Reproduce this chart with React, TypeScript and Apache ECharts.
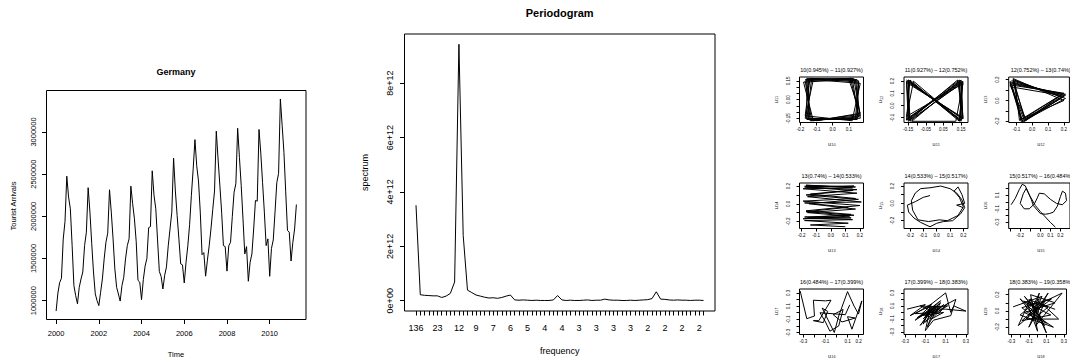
import React, { useEffect, useRef } from "react";
import * as echarts from "echarts";

const FONT = "'Liberation Sans', Arial, Helvetica, sans-serif";

// ---------------- Panel 1: Germany, monthly tourist arrivals Jan 2000 - Apr 2011 ----------------
const tsStartYear = 2000;
const germanyArrivals = [
  877000, 1090000, 1215000, 1265000, 1730000, 1940000, 2476000, 2230000, 2089000, 1653000, 1178000, 1059000,
  962000, 1158000, 1257000, 1340000, 1653000, 1812000, 2340000, 2050000, 1680000, 1340000, 1080000, 1000000,
  941000, 1099000, 1257000, 1495000, 1693000, 1800000, 2315000, 2050000, 1733000, 1376000, 1158000, 1079000,
  995000, 1178000, 1277000, 1495000, 1653000, 1733000, 2358000, 2150000, 1970000, 1700000, 1240000, 1220000,
  1012000, 1250000, 1410000, 1500000, 1866000, 1878000, 2540000, 2250000, 2090000, 1720000, 1346000, 1287000,
  1138000, 1300000, 1400000, 1650000, 1850000, 2050000, 2690000, 2300000, 2010000, 1730000, 1436000, 1424000,
  1210000, 1455000, 1650000, 1900000, 2250000, 2560000, 2910000, 2600000, 2420000, 2050000, 1545000, 1570000,
  1290000, 1480000, 1650000, 1850000, 2080000, 2300000, 3010000, 2680000, 2370000, 2050000, 1653000, 1641000,
  1350000, 1650000, 1693000, 2000000, 2287000, 2386000, 3045000, 2700000, 2366000, 1970000, 1554000, 1641000,
  1230000, 1455000, 1554000, 1850000, 2188000, 2180000, 3030000, 2750000, 2400000, 2050000, 1653000, 1733000,
  1289000, 1620000, 1720000, 2050000, 2400000, 2510000, 3392000, 3080000, 2760000, 2290000, 1832000, 1812000,
  1470000, 1690000, 1850000, 2140000,
];
const tsYearTicks = [2000, 2002, 2004, 2006, 2008, 2010];
const tsYearLabels = ["2000", "2002", "2004", "2006", "2008", "2010"];
const tsValueTicks = [1000000, 1500000, 2000000, 2500000, 3000000];
const tsValueLabels = ["1000000", "1500000", "2000000", "2500000", "3000000"];

// ---------------- Panel 2: periodogram (k = 1..68) ----------------
const periodogram = [
  3.51e12, 0.22e12, 0.2e12, 0.19e12, 0.18e12, 0.18e12, 0.12e12, 0.17e12, 0.27e12, 0.69e12,
  9.43e12, 2.4e12, 0.39e12, 0.3e12, 0.21e12, 0.17e12, 0.13e12, 0.1e12, 0.11e12, 0.09e12,
  0.12e12, 0.17e12, 0.21e12, 0.03e12, 0.02e12, 0.03e12, 0.02e12, 0.01e12, 0.02e12, 0.01e12,
  0.01e12, 0.01e12, 0.03e12, 0.19e12, 0.03e12, 0.01e12, 0.02e12, 0.01e12, 0.01e12, 0.02e12,
  0.03e12, 0.01e12, 0.02e12, 0.02e12, 0.06e12, 0.03e12, 0.02e12, 0.02e12, 0.01e12, 0.01e12,
  0.02e12, 0.01e12, 0.02e12, 0.03e12, 0.04e12, 0.08e12, 0.33e12, 0.06e12, 0.05e12, 0.03e12,
  0.02e12, 0.03e12, 0.02e12, 0.02e12, 0.01e12, 0.02e12, 0.02e12, 0.01e12,
];
const periodLabelK = [1, 6, 11, 15, 19, 23, 27, 31, 35, 39, 43, 47, 51, 55, 59, 63, 67];
const periodLabels = ["136", "23", "12", "9", "7", "6", "5", "4", "4", "3", "3", "3", "3", "2", "2", "2", "2"];
const spectrumTicks = [0, 2e12, 4e12, 6e12, 8e12];
const spectrumLabels = ["0e+00", "2e+12", "4e+12", "6e+12", "8e+12"];

// ---------------- Panel 3: paired eigenvectors ----------------
const u10u11 = [
  [-0.17, 0.16], [0.12, 0.17], [0.16, -0.14], [-0.14, -0.17],
  [-0.16, 0.17], [0.14, 0.16], [0.17, -0.15], [-0.15, -0.16],
  [-0.15, 0.16], [0.15, 0.16], [0.15, -0.16], [-0.16, -0.16],
  [-0.13, 0.17], [0.16, 0.15], [0.14, -0.16], [-0.17, -0.15],
  [-0.12, 0.16], [0.17, 0.13], [0.12, -0.17], [-0.17, -0.13],
  [-0.14, 0.17], [0.16, 0.14], [0.15, -0.16], [-0.16, -0.15],
  [-0.16, 0.16], [0.13, 0.17], [0.17, -0.13], [-0.13, -0.17],
  [-0.17, 0.15], [0.11, 0.17], [0.16, -0.12], [-0.12, -0.17],
  [-0.18, 0.14], [0.1, 0.16], [0.17, -0.11], [-0.1, -0.17],
];
const u11u12 = [
  [-0.16, 0.21], [0.15, -0.12], [0.14, 0.21], [-0.15, -0.11],
  [-0.15, 0.2], [0.16, -0.11], [0.15, 0.2], [-0.16, -0.12],
  [-0.14, 0.21], [0.14, -0.13], [0.16, 0.19], [-0.14, -0.12],
  [-0.16, 0.19], [0.16, -0.1], [0.13, 0.21], [-0.15, -0.13],
  [-0.15, 0.21], [0.15, -0.12], [0.15, 0.21], [-0.13, -0.13],
  [0.12, -0.13], [0.16, 0.18], [-0.16, -0.09], [-0.12, 0.2],
  [0.15, -0.13], [0.14, 0.2], [-0.15, -0.12], [-0.16, 0.2],
  [0.16, -0.11], [0.15, 0.19], [-0.14, -0.13], [-0.15, 0.21],
  [0.14, -0.12], [0.16, 0.2], [-0.16, -0.11],
];
const u12u13 = [
  [-0.13, 0.19], [0.2, 0.04], [-0.05, -0.19], [-0.14, 0.17], [0.21, 0.06], [-0.07, -0.2],
  [-0.12, 0.2], [0.19, 0.03], [-0.04, -0.18], [-0.14, 0.15], [0.2, 0.07], [-0.08, -0.19],
  [-0.11, 0.19], [0.21, 0.02], [-0.06, -0.2], [-0.13, 0.13], [0.18, 0.05], [-0.05, -0.17],
  [-0.12, 0.21], [0.2, 0.0], [-0.07, -0.18], [-0.14, 0.18], [0.21, 0.05], [-0.06, -0.21],
  [-0.13, 0.16], [0.19, 0.06], [-0.04, -0.19], [-0.12, 0.18],
];
const u13u14 = [
  [-0.18, 0.2], [0.17, 0.19], [-0.17, 0.21], [0.15, 0.18], [-0.19, 0.17], [0.18, 0.12],
  [-0.16, 0.08], [0.21, 0.02], [-0.18, 0.01], [0.12, -0.04], [-0.17, -0.09], [0.16, -0.13],
  [-0.18, -0.15], [0.14, -0.16], [-0.19, -0.17], [0.13, -0.14], [-0.16, -0.1], [0.17, -0.06],
  [-0.15, 0.0], [0.19, 0.05], [-0.17, 0.1], [0.15, 0.15], [-0.18, 0.19], [0.16, 0.2],
  [-0.17, 0.19], [0.18, 0.16], [-0.14, 0.11], [0.17, 0.06], [-0.19, 0.03], [0.2, -0.02],
  [-0.17, -0.08], [0.14, -0.12], [-0.16, -0.16], [0.15, -0.18], [-0.18, -0.19], [0.12, -0.22],
  [-0.14, -0.24], [0.1, -0.26],
];
const u14u15 = [
  [-0.05, 0.09], [-0.1, 0.07], [-0.16, 0.02], [-0.22, -0.02], [-0.21, -0.1], [-0.17, -0.17],
  [-0.12, -0.22], [-0.05, -0.27], [0.0, -0.23], [0.05, -0.21], [0.12, -0.2], [0.18, -0.12],
  [0.21, -0.05], [0.19, 0.04], [0.15, 0.12], [0.1, 0.17], [0.03, 0.2], [-0.05, 0.18],
  [-0.12, 0.17], [-0.16, 0.12], [-0.19, 0.03], [-0.18, -0.08], [-0.14, -0.19], [-0.06, -0.21],
  [0.02, -0.19], [0.08, -0.2], [0.16, -0.14], [0.2, -0.04], [0.17, 0.07], [0.13, 0.14],
  [0.16, 0.19], [0.19, 0.1], [0.21, 0.0], [0.15, -0.02], [0.2, -0.05],
];
const u15u16 = [
  [-0.29, -0.04], [-0.25, 0.05], [-0.21, 0.18], [-0.18, 0.26], [-0.15, 0.24], [-0.12, 0.14],
  [-0.09, 0.04], [-0.07, -0.05], [-0.03, -0.12], [0.0, -0.17], [0.05, -0.18], [0.09, -0.17],
  [0.13, -0.15], [0.17, -0.06], [0.2, 0.08], [0.22, 0.16], [0.25, 0.13], [0.26, 0.02],
  [0.22, -0.04], [0.16, -0.02], [0.1, 0.04], [0.04, 0.12], [-0.01, 0.13], [-0.03, 0.06],
  [-0.06, -0.03], [-0.11, -0.1], [-0.16, -0.1], [-0.2, -0.02], [-0.17, 0.12], [-0.14, 0.2],
  [-0.1, 0.08], [-0.05, -0.05], [0.0, -0.14], [0.05, -0.22], [0.1, -0.3], [0.15, -0.37],
];
const u16u17 = [
  [-0.33, 0.33], [-0.27, -0.09], [-0.2, -0.05], [-0.21, 0.19], [-0.1, 0.18], [-0.05, 0.19],
  [-0.16, -0.12], [-0.21, -0.12], [-0.12, -0.15], [-0.08, 0.02], [-0.13, 0.07], [-0.02, -0.3],
  [0.02, -0.05], [0.1, 0.32], [0.16, 0.1], [0.2, -0.02], [0.23, 0.18], [0.14, -0.25],
  [0.1, -0.06], [0.17, -0.08], [0.05, -0.14], [-0.03, -0.03], [0.06, 0.05], [0.02, -0.2],
  [-0.06, -0.28], [-0.1, -0.14], [-0.15, 0.0], [0.08, -0.03], [0.12, 0.12],
];
const u17u18 = [
  [-0.28, 0.05], [-0.1, 0.12], [-0.25, -0.05], [-0.05, 0.1], [-0.2, -0.12], [-0.02, 0.06],
  [-0.15, -0.2], [0.0, 0.12], [-0.12, -0.1], [0.05, 0.15], [-0.08, -0.22], [-0.02, 0.02],
  [-0.18, -0.08], [0.02, 0.1], [-0.1, -0.15], [0.08, 0.12], [-0.05, -0.05], [0.12, 0.1],
  [-0.08, 0.08], [0.1, 0.3], [0.15, 0.0], [0.18, 0.1], [0.3, 0.02], [0.1, 0.05],
  [-0.06, 0.05], [-0.12, -0.18], [-0.04, 0.13], [-0.2, -0.02], [0.0, 0.0], [-0.15, 0.1],
  [0.04, 0.08], [-0.1, -0.05], [0.2, 0.2], [0.15, -0.05], [-0.02, -0.12], [-0.1, -0.28],
  [-0.06, 0.0], [0.05, 0.18], [-0.14, -0.05], [0.08, 0.0], [-0.04, -0.1], [0.12, 0.14],
  [0.03, -0.02], [-0.08, 0.1],
];
const u18u19 = [
  [-0.28, 0.05], [0.05, 0.18], [-0.1, -0.2], [0.12, 0.22], [-0.05, -0.05], [-0.2, 0.15],
  [0.1, -0.15], [-0.15, -0.02], [0.2, 0.1], [-0.08, 0.2], [0.0, -0.25], [-0.12, 0.1],
  [0.15, -0.05], [-0.18, -0.12], [0.08, 0.12], [-0.02, -0.18], [0.28, 0.22], [-0.05, 0.05],
  [-0.15, 0.18], [0.05, -0.1], [-0.1, 0.0], [0.18, -0.2], [-0.2, -0.05], [0.02, 0.15],
  [-0.06, -0.12], [0.12, 0.05], [-0.16, 0.12], [0.0, 0.02], [0.1, -0.27], [-0.08, 0.15],
  [-0.22, -0.18], [0.06, 0.08], [0.24, -0.1], [-0.12, -0.1], [0.02, 0.22], [-0.04, -0.02],
  [0.16, 0.15], [-0.18, 0.04], [0.08, -0.18], [-0.1, 0.14], [0.2, 0.02],
];

const pairTitles = [
  "10(0.945%) \u2013 11(0.927%)", "11(0.927%) \u2013 12(0.752%)", "12(0.752%) \u2013 13(0.74%)",
  "13(0.74%) \u2013 14(0.533%)", "14(0.533%) \u2013 15(0.517%)", "15(0.517%) \u2013 16(0.484%)",
  "16(0.484%) \u2013 17(0.399%)", "17(0.399%) \u2013 18(0.383%)", "18(0.383%) \u2013 19(0.358%)",
];
const pairXIndex = ["10", "11", "12", "13", "14", "15", "16", "17", "18"];
const pairYIndex = ["11", "12", "13", "14", "15", "16", "17", "18", "19"];
const pairPoints = [u10u11, u11u12, u12u13, u13u14, u14u15, u15u16, u16u17, u17u18, u18u19];

const pairAxes = [
  { x: [-0.205, 0.19], xt: [-0.2, -0.1, 0, 0.1], xl: [-0.2, -0.1, 0, 0.1], xs: ["-0.2", "-0.1", "0.0", "0.1"],
    y: [-0.184, 0.181], yt: [-0.15, -0.1, -0.05, 0, 0.05, 0.1, 0.15], yl: [-0.15, 0, 0.15], ys: ["-0.15", "0.00", "0.15"] },
  { x: [-0.174, 0.189], xt: [-0.15, -0.1, -0.05, 0, 0.05, 0.1, 0.15], xl: [-0.15, -0.05, 0.05, 0.15], xs: ["-0.15", "-0.05", "0.05", "0.15"],
    y: [-0.14, 0.235], yt: [-0.1, 0, 0.1, 0.2], yl: [-0.1, 0, 0.1, 0.2], ys: ["-0.1", "0.0", "0.1", "0.2"] },
  { x: [-0.148, 0.235], xt: [-0.1, 0, 0.1, 0.2], xl: [-0.1, 0, 0.1, 0.2], xs: ["-0.1", "0.0", "0.1", "0.2"],
    y: [-0.21, 0.225], yt: [-0.2, -0.1, 0, 0.1, 0.2], yl: [-0.2, 0, 0.2], ys: ["-0.2", "0.0", "0.2"] },
  { x: [-0.215, 0.225], xt: [-0.2, -0.1, 0, 0.1, 0.2], xl: [-0.2, -0.1, 0, 0.1, 0.2], xs: ["-0.2", "-0.1", "0.0", "0.1", "0.2"],
    y: [-0.28, 0.235], yt: [-0.2, -0.1, 0, 0.1, 0.2], yl: [-0.2, 0, 0.2], ys: ["-0.2", "0.0", "0.2"] },
  { x: [-0.245, 0.235], xt: [-0.2, -0.1, 0, 0.1, 0.2], xl: [-0.2, -0.1, 0, 0.1, 0.2], xs: ["-0.2", "-0.1", "0.0", "0.1", "0.2"],
    y: [-0.29, 0.235], yt: [-0.2, -0.1, 0, 0.1, 0.2], yl: [-0.2, 0, 0.2], ys: ["-0.2", "0.0", "0.2"] },
  { x: [-0.314, 0.295], xt: [-0.3, -0.2, -0.1, 0, 0.1, 0.2], xl: [-0.2, 0, 0.1, 0.2], xs: ["-0.2", "0.0", "0.1", "0.2"],
    y: [-0.39, 0.28], yt: [-0.3, -0.2, -0.1, 0, 0.1, 0.2], yl: [-0.3, -0.1, 0.1], ys: ["-0.3", "-0.1", "0.1"] },
  { x: [-0.336, 0.245], xt: [-0.3, -0.2, -0.1, 0, 0.1, 0.2], xl: [-0.3, -0.1, 0.1, 0.2], xs: ["-0.3", "-0.1", "0.1", "0.2"],
    y: [-0.33, 0.36], yt: [-0.3, -0.2, -0.1, 0, 0.1, 0.2, 0.3], yl: [-0.3, -0.1, 0.1, 0.3], ys: ["-0.3", "-0.1", "0.1", "0.3"] },
  { x: [-0.31, 0.32], xt: [-0.3, -0.2, -0.1, 0, 0.1, 0.2, 0.3], xl: [-0.3, -0.1, 0.1, 0.3], xs: ["-0.3", "-0.1", "0.1", "0.3"],
    y: [-0.34, 0.36], yt: [-0.3, -0.2, -0.1, 0, 0.1, 0.2, 0.3], yl: [-0.3, -0.1, 0.1, 0.3], ys: ["-0.3", "-0.1", "0.1", "0.3"] },
  { x: [-0.33, 0.33], xt: [-0.3, -0.2, -0.1, 0, 0.1, 0.2, 0.3], xl: [-0.3, -0.1, 0.1, 0.3], xs: ["-0.3", "-0.1", "0.1", "0.3"],
    y: [-0.29, 0.27], yt: [-0.2, -0.1, 0, 0.1, 0.2], yl: [-0.2, 0, 0.2], ys: ["-0.2", "0.0", "0.2"] },
];

// ---------------- layout ----------------
const cellLeft = [799.5, 904, 1008.7];
const cellTop = [77, 183, 289];
const cellW = 64;
const cellH = 45.5;

function fmt(vals: number[], texts: string[]) {
  return (v: number) => {
    for (let i = 0; i < vals.length; i++) {
      if (Math.abs(vals[i] - v) <= 1e-7 * Math.max(1, Math.abs(vals[i]))) return texts[i];
    }
    return "";
  };
}

function buildOption() {
  const grid: any[] = [];
  const xAxis: any[] = [];
  const yAxis: any[] = [];
  const series: any[] = [];
  const elements: any[] = [];

  const panel = (p: any) => {
    const gi = grid.length;
    grid.push({ left: p.left, top: p.top, width: p.width, height: p.height, show: true, borderColor: "#000", borderWidth: 1, backgroundColor: "transparent" });
    xAxis.push({
      gridIndex: gi, type: "value", min: p.xMin, max: p.xMax, position: "bottom",
      axisLine: { show: false, onZero: false }, splitLine: { show: false },
      axisTick: { show: true, inside: false, length: p.tick, lineStyle: { color: "#000", width: 1 }, customValues: p.xTicks },
      axisLabel: { show: true, customValues: p.xLabelVals, formatter: fmt(p.xLabelVals, p.xLabelTexts), fontSize: p.font, fontFamily: FONT, color: "#000", margin: p.xMargin },
    });
    yAxis.push({
      gridIndex: gi, type: "value", min: p.yMin, max: p.yMax, position: "left",
      axisLine: { show: false, onZero: false }, splitLine: { show: false },
      axisTick: { show: true, inside: false, length: p.tick, lineStyle: { color: "#000", width: 1 }, customValues: p.yTicks },
      axisLabel: { show: true, rotate: 90, customValues: p.yLabelVals, formatter: fmt(p.yLabelVals, p.yLabelTexts), fontSize: p.font, fontFamily: FONT, color: "#000", margin: p.yMargin },
    });
    series.push({
      type: "line", xAxisIndex: gi, yAxisIndex: gi, data: p.data, showSymbol: false, symbol: "none",
      lineStyle: { color: "#000", width: p.lw }, silent: true, clip: true,
    });
  };

  const text = (x: number, y: number, s: string, size: number, bold = false, rot = 0) => ({
    type: "text", x, y, rotation: rot, silent: true,
    style: { text: s, fontSize: size, fontFamily: FONT, fontWeight: bold ? "bold" : "normal", fill: "#000", align: "center", verticalAlign: "middle" },
  });
  // "u" with a subscript index, drawn as a group so that it can be rotated as one piece
  const subText = (x: number, y: number, sub: string, rot = 0) => ({
    type: "group", x, y, rotation: rot, silent: true,
    children: [
      { type: "text", x: -0.5, y: 0, silent: true, style: { text: "u", fontSize: 5.5, fontFamily: FONT, fill: "#222", align: "right", verticalAlign: "middle" } },
      { type: "text", x: -0.2, y: 1.6, silent: true, style: { text: sub, fontSize: 3.8, fontFamily: FONT, fill: "#222", align: "left", verticalAlign: "middle" } },
    ],
  });

  // Panel 1
  const tsData = germanyArrivals.map((v, i) => [tsStartYear + i / 12, v]);
  panel({
    left: 46.5, top: 90.5, width: 259.5, height: 229,
    xMin: 1999.55, xMax: 2011.7, yMin: 776400, yMax: 3492600,
    xTicks: tsYearTicks, xLabelVals: tsYearTicks, xLabelTexts: tsYearLabels,
    yTicks: tsValueTicks, yLabelVals: tsValueTicks, yLabelTexts: tsValueLabels,
    font: 7.5, tick: 4.5, xMargin: 10, yMargin: 9, data: tsData, lw: 1,
  });
  elements.push(text(176, 72, "Germany", 9, true));
  elements.push(text(176, 354, "Time", 7.5));
  elements.push(text(13, 206, "Tourist Arrivals", 7.5, false, Math.PI / 2));

  // Panel 2
  const kValues = periodogram.map((_, i) => i + 1);
  const pgData = periodogram.map((v, i) => [kValues[i], v]);
  panel({
    left: 404.5, top: 34, width: 310.5, height: 277,
    xMin: -1.68, xMax: 70.68, yMin: -0.377e12, yMax: 9.807e12,
    xTicks: kValues, xLabelVals: periodLabelK, xLabelTexts: periodLabels,
    yTicks: spectrumTicks, yLabelVals: spectrumTicks, yLabelTexts: spectrumLabels,
    font: 9, tick: 4.5, xMargin: 12.5, yMargin: 10.5, data: pgData, lw: 1,
  });
  elements.push(text(559.7, 12.5, "Periodogram", 11, true));
  elements.push(text(559.7, 350.7, "frequency", 9));
  elements.push(text(365, 172.5, "spectrum", 9, false, Math.PI / 2));

  // Panel 3
  for (let i = 0; i < 9; i++) {
    const r = Math.floor(i / 3);
    const c = i % 3;
    const a = pairAxes[i];
    const left = cellLeft[c];
    const top = cellTop[r];
    panel({
      left, top, width: cellW, height: cellH,
      xMin: a.x[0], xMax: a.x[1], yMin: a.y[0], yMax: a.y[1],
      xTicks: a.xt, xLabelVals: a.xl, xLabelTexts: a.xs,
      yTicks: a.yt, yLabelVals: a.yl, yLabelTexts: a.ys,
      font: 4.5, tick: 3, xMargin: 4.5, yMargin: 9, data: pairPoints[i], lw: 1,
    });
    elements.push(text(left + cellW / 2, top - 7, pairTitles[i], 5.5));
    elements.push(subText(left + cellW / 2, top + cellH + 21, pairXIndex[i]));
    elements.push(subText(left - 24, top + cellH / 2, pairYIndex[i], Math.PI / 2));
  }

  return {
    animation: false,
    backgroundColor: "#fff",
    grid, xAxis, yAxis, series,
    graphic: { elements },
  };
}

export default function App() {
  const ref = useRef<HTMLDivElement>(null);
  useEffect(() => {
    if (!ref.current) return;
    const chart = echarts.init(ref.current, null, { renderer: "svg" });
    chart.setOption(buildOption() as any);
    return () => chart.dispose();
  }, []);
  return (
    <div
      ref={ref}
      style={{ position: "absolute", left: 0, top: 0, width: 1070, height: 364, background: "#fff" }}
    />
  );
}
